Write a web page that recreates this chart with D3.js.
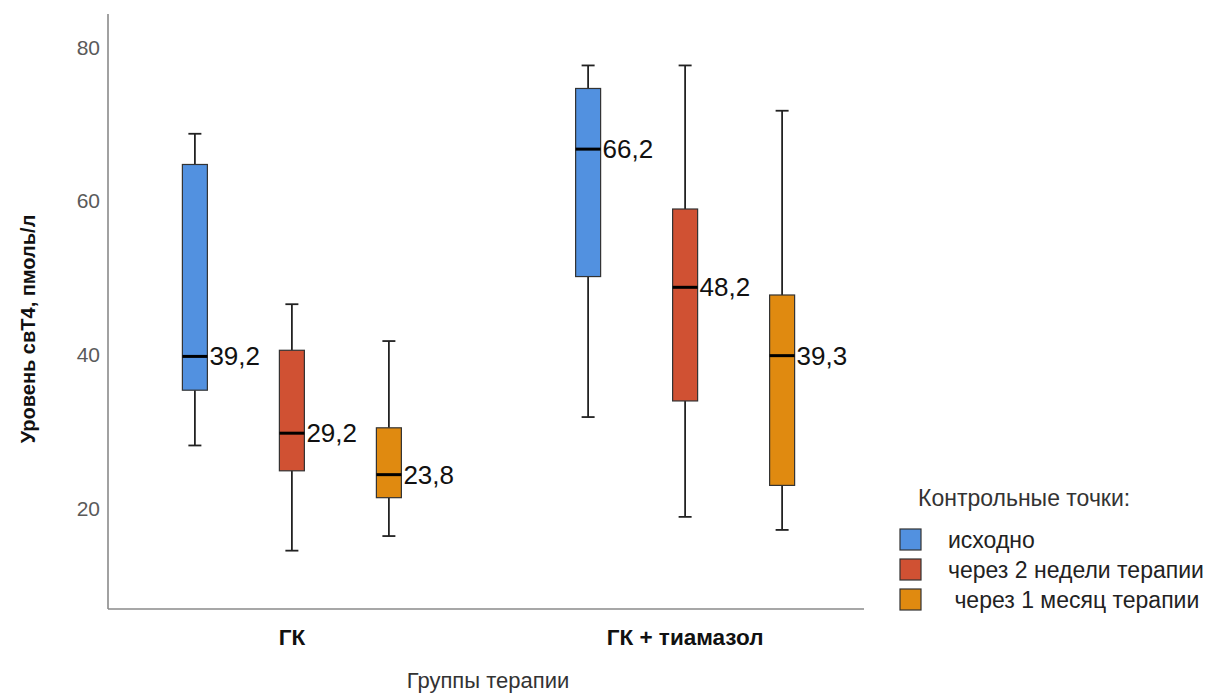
<!DOCTYPE html>
<html>
<head>
<meta charset="utf-8">
<script src="https://cdn.jsdelivr.net/npm/d3@7"></script>
<style>
  html, body { margin: 0; padding: 0; background: #fff; }
  svg { display: block; font-family: "Liberation Sans", Arial, sans-serif; }
</style>
</head>
<body>
<svg id="chart" width="1210" height="695"></svg>
<script>
// ---- data ----
const groups = ["ГК", "ГК + тиамазол"];
const series = ["исходно", "через 2 недели терапии", " через 1 месяц терапии"];
const colors = ["#5291e0", "#d05133", "#e08a10"];
// values per group, per series
const whiskerMin = [[27.6, 13.9, 15.8], [31.3, 18.3, 16.6]];
const q1         = [[34.8, 24.3, 20.8], [49.6, 33.4, 22.4]];
const medians    = [[39.2, 29.2, 23.8], [66.2, 48.2, 39.3]];
const q3         = [[64.2, 40.0, 29.9], [74.1, 58.4, 47.2]];
const whiskerMax = [[68.2, 46.0, 41.2], [77.1, 77.1, 71.2]];
const yTicks = [20, 40, 60, 80];
const xTitle = "Группы терапии";
const yTitle = "Уровень свТ4, пмоль/л";
const legendTitle = "Контрольные точки:";

// ---- layout ----
const svg = d3.select("#chart");
const plot = { left: 108, right: 864, top: 14, bottom: 609 };

const y = d3.scaleLinear().domain([6.3, 83.8]).range([plot.bottom, plot.top]);
const x = d3.scalePoint().domain(groups).range([111, 866]).padding(0.46);
const inner = d3.scalePoint().domain(series).range([-97, 97]);
const boxW = 25, capW = 13;

const fmt = v => d3.format(".1f")(v).replace(".", ",");

// axes lines
svg.append("line").attr("x1", plot.left).attr("x2", plot.left)
  .attr("y1", plot.top).attr("y2", plot.bottom)
  .attr("stroke", "#8a8a8a").attr("stroke-width", 1.6);
svg.append("line").attr("x1", plot.left).attr("x2", plot.right)
  .attr("y1", plot.bottom).attr("y2", plot.bottom)
  .attr("stroke", "#8a8a8a").attr("stroke-width", 1.6);

// y tick labels
const yAxis = d3.axisLeft(y).tickValues(yTicks).tickSize(0).tickPadding(8);
const yg = svg.append("g").attr("transform", `translate(${plot.left},0)`).call(yAxis);
yg.select(".domain").remove();
yg.selectAll("text")
  .attr("font-size", 21).attr("fill", "#5a5a5a")
  .attr("font-family", "Liberation Sans, Arial, sans-serif")
  .attr("transform", "translate(0,4.5)");

// x group labels
svg.selectAll(".xlab").data(groups).enter().append("text")
  .attr("class", "xlab")
  .attr("x", d => x(d)).attr("y", 645)
  .attr("text-anchor", "middle")
  .attr("font-size", 22.5).attr("font-weight", "bold").attr("fill", "#111")
  .text(d => d);

// axis titles
svg.append("text").attr("x", 488).attr("y", 688)
  .attr("text-anchor", "middle").attr("font-size", 22).attr("fill", "#333")
  .text(xTitle);
svg.append("text")
  .attr("transform", "translate(28,329) rotate(-90)")
  .attr("text-anchor", "middle").attr("dominant-baseline", "central")
  .attr("font-size", 20).attr("font-weight", "bold").attr("fill", "#111")
  .text(yTitle);

// boxes
const rows = [];
groups.forEach((g, gi) => series.forEach((s, si) => rows.push({
  g, s, si,
  min: whiskerMin[gi][si], q1: q1[gi][si], med: medians[gi][si],
  q3: q3[gi][si], max: whiskerMax[gi][si]
})));

const bx = svg.selectAll(".box").data(rows).enter().append("g")
  .attr("class", "box")
  .attr("transform", d => `translate(${x(d.g) + inner(d.s)},0)`);

// whisker lines
bx.append("line").attr("x1", 0).attr("x2", 0)
  .attr("y1", d => y(d.max)).attr("y2", d => y(d.q3))
  .attr("stroke", "#222").attr("stroke-width", 1.8);
bx.append("line").attr("x1", 0).attr("x2", 0)
  .attr("y1", d => y(d.q1)).attr("y2", d => y(d.min))
  .attr("stroke", "#222").attr("stroke-width", 1.8);
// caps
bx.append("line").attr("x1", -capW / 2).attr("x2", capW / 2)
  .attr("y1", d => y(d.max)).attr("y2", d => y(d.max))
  .attr("stroke", "#222").attr("stroke-width", 1.8);
bx.append("line").attr("x1", -capW / 2).attr("x2", capW / 2)
  .attr("y1", d => y(d.min)).attr("y2", d => y(d.min))
  .attr("stroke", "#222").attr("stroke-width", 1.8);
// box
bx.append("rect")
  .attr("x", -boxW / 2).attr("width", boxW)
  .attr("y", d => y(d.q3)).attr("height", d => y(d.q1) - y(d.q3))
  .attr("fill", d => colors[d.si]).attr("stroke", "#333").attr("stroke-width", 1.2);
// median
bx.append("line").attr("x1", -boxW / 2).attr("x2", boxW / 2)
  .attr("y1", d => y(d.med)).attr("y2", d => y(d.med))
  .attr("stroke", "#000").attr("stroke-width", 3);
// median labels
bx.append("text")
  .attr("x", boxW / 2 + 2).attr("y", d => y(d.med))
  .attr("dominant-baseline", "central")
  .attr("font-size", 26).attr("fill", "#111")
  .text(d => fmt(d.med));

// legend
const lg = svg.append("g");
lg.append("text").attr("x", 918).attr("y", 506)
  .attr("font-size", 23).attr("fill", "#333").text(legendTitle);
const li = lg.selectAll(".li").data(series).enter().append("g")
  .attr("class", "li")
  .attr("transform", (d, i) => `translate(900,${529 + i * 30})`);
li.append("rect").attr("width", 21).attr("height", 21)
  .attr("fill", (d, i) => colors[i]).attr("stroke", "#333").attr("stroke-width", 1.2);
li.append("text").attr("x", 48).attr("y", 11).attr("dominant-baseline", "central")
  .attr("font-size", 23).attr("fill", "#222")
  .attr("xml:space", "preserve").style("white-space", "pre")
  .text(d => d);
</script>
</body>
</html>
